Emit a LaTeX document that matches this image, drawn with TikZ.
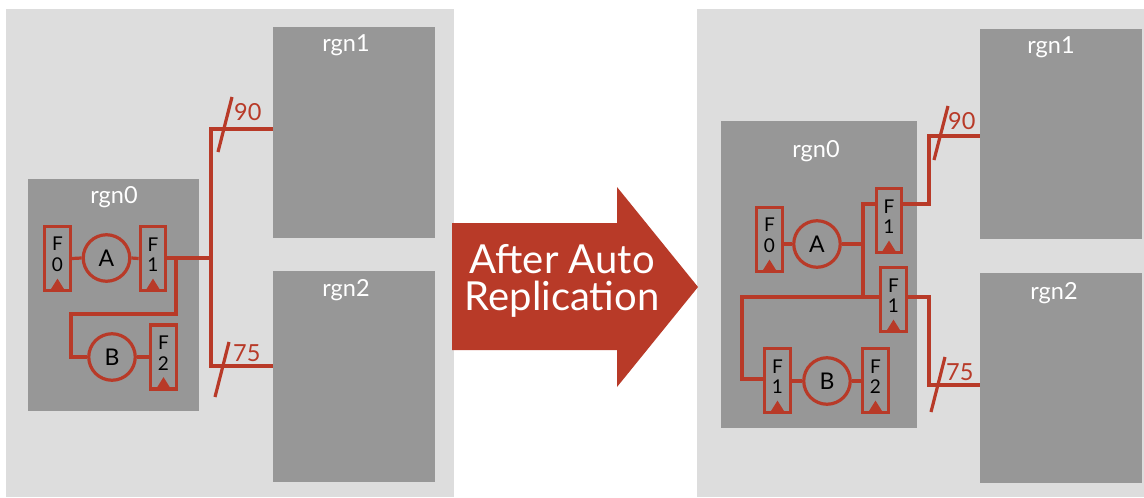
\documentclass[tikz,border=0pt]{standalone}
\usepackage{fontspec}
\setmainfont{Lato}
\usetikzlibrary{calc}
\definecolor{bgc}{HTML}{DDDDDD}
\definecolor{rgc}{HTML}{979797}
\definecolor{rl}{HTML}{B83A28}
\tikzset{
  panel/.style={fill=bgc, draw=none},
  region/.style={fill=rgc, draw=none, anchor=north west, inner sep=0pt},
  rlab/.style={text=white, font=\fontsize{23.5}{24}\selectfont, anchor=base},
  fboxs/.style={draw=rl, line width=3.2pt, fill=rgc, minimum width=25.5pt, minimum height=64pt, inner sep=0pt},
  ftext/.style={font=\fontsize{19}{20.5}\selectfont, align=center, text=black, inner sep=0pt},
  opc/.style={circle, draw=rl, line width=3.2pt, fill=rgc, minimum size=46.5pt, inner sep=0pt, font=\fontsize{23}{24}\selectfont},
  rline/.style={draw=rl, line width=3.2pt},
  nlab/.style={text=rl, font=\fontsize{23.5}{24}\selectfont, anchor=base west, inner sep=0pt},
}
\newcommand\Fblk[4]{%
  \node[fboxs] (#1) at (#2,#3) {};
  \node[ftext] (#1t) at ($(#1.center)+(0,-4)$) {F\\#4};
  \fill[rl] ($(#1.south)+(-7.5,-1.5)$) -- ($(#1.south)+(7.5,-1.5)$) -- ($(#1.south)+(0,-13.5)$) -- cycle;
}
\begin{document}
\begin{tikzpicture}[x=1pt,y=-1pt]
\useasboundingbox (0,0) rectangle (1144,498);
\fill[white] (0,0) rectangle (1144,498);
% panels
\path[panel] (6,9) rectangle (454,497);
\path[panel] (697,9) rectangle (1144,497);

% ===== left panel =====
\node[region, minimum width=162pt, minimum height=211pt] (L1) at (273,27) {};
\node[region, minimum width=162pt, minimum height=211pt] (L2) at (273,271) {};
\node[region, minimum width=171pt, minimum height=232pt] (L0) at (28,179) {};
\node[rlab] (L1l) at (346,51) {rgn1};
\node[rlab] (L2l) at (346,296) {rgn2};
\node[rlab] (L0l) at (114,203) {rgn0};

\Fblk{Lf0}{57.5}{258.5}{0}
\Fblk{Lf1}{153}{258.5}{1}
\Fblk{Lf2}{163.5}{357}{2}
\node[opc] (LA) at (106.5,258) {A};
\node[opc] (LB) at (112,357) {B};

\draw[rline] (Lf0.east) -- (LA.west);
\draw[rline] (LA.east) -- (Lf1.west);
\draw[rline] (LB.east) -- (LB.east -| Lf2.west);
\coordinate (Lbt) at (211,129);
\coordinate (Lbb) at (211,366);
\coordinate (Lj) at (176,258);
\draw[rline] (Lf1.east |- Lj) -- (Lj -| Lbt);
\draw[rline] (L1.west |- Lbt) -- (Lbt) -- (Lbb) -- (L2.west |- Lbb);
\draw[rline] (Lj) -- (176,314) -- (71,314) -- (71,357) -- (LB.west);
\coordinate (Ls1a) at (218,152); \coordinate (Ls1b) at (232,97);
\coordinate (Ls2a) at (215,397); \coordinate (Ls2b) at (229,342);
\draw[rline] (Ls1a) -- (Ls1b);
\draw[rline] (Ls2a) -- (Ls2b);
\node[nlab] (L90) at (234,120) {90};
\node[nlab] (L75) at (233,361) {75};

% ===== arrow =====
\fill[rl] (452,223) -- (617,223) -- (617,187) -- (698,287) -- (617,387) -- (617,350) -- (452,350) -- cycle;
\node[text=white, font=\fontsize{40}{40}\selectfont, align=center, inner sep=0pt] (arr) at (562,281) {After Auto\\[-3pt]Replication};

% ===== right panel =====
\node[region, minimum width=162pt, minimum height=210pt] (R1) at (980,29) {};
\node[region, minimum width=162pt, minimum height=210pt] (R2) at (980,273) {};
\node[region, minimum width=196pt, minimum height=307pt] (R0) at (721,121) {};
\node[rlab] (R1l) at (1051,53) {rgn1};
\node[rlab] (R2l) at (1054,299) {rgn2};
\node[rlab] (R0l) at (816,157) {rgn0};

\Fblk{Rf0}{769.5}{239.5}{0}
\Fblk{Rf1a}{889}{220.5}{1}
\Fblk{Rf1b}{893.5}{299.5}{1}
\Fblk{Rf1c}{777.5}{380.5}{1}
\Fblk{Rf2}{875.5}{380.5}{2}
\node[opc] (RA) at (817,244) {A};
\node[opc] (RB) at (827,381) {B};

\draw[rline] (Rf0.east |- RA) -- (RA.west);
\draw[rline] (RB.west -| Rf1c.east) -- (RB.west);
\draw[rline] (RB.east) -- (RB.east -| Rf2.west);
\coordinate (Rv1) at (863,204);
\coordinate (Rv2) at (863,297);
\draw[rline] (RA.east) -- (RA.east -| Rv1);
\draw[rline] (Rv1 -| Rf1a.west) -- (Rv1) -- (Rv2);
\draw[rline] (Rv2 -| Rf1b.west) -- (742,297) -- (742,379) -- (Rf1c.west |- 742,379);
\draw[rline] (Rf1a.east |- Rv1) -- (929,204) -- (929,136) -- (R1.west |- 929,136);
\draw[rline] (Rf1b.east |- Rv2) -- (929,297) -- (929,385) -- (R2.west |- 929,385);
\coordinate (Rs1a) at (934,160); \coordinate (Rs1b) at (948,106);
\coordinate (Rs2a) at (931,412); \coordinate (Rs2b) at (945,357);
\draw[rline] (Rs1a) -- (Rs1b);
\draw[rline] (Rs2a) -- (Rs2b);
\node[nlab] (R90) at (948,129) {90};
\node[nlab] (R75) at (946,380) {75};
\end{tikzpicture}
\end{document}
